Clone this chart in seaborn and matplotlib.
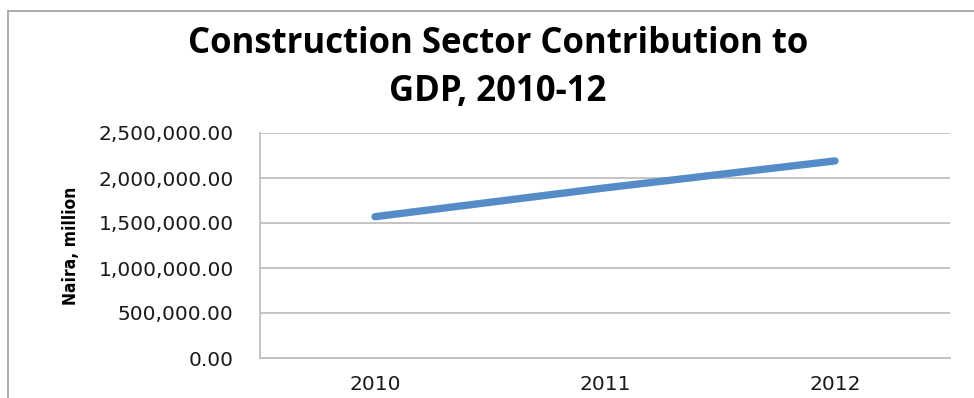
import matplotlib
matplotlib.use("Agg")
import matplotlib.pyplot as plt
import seaborn as sns
import pandas as pd
from matplotlib.lines import Line2D
from matplotlib.ticker import FuncFormatter

years = ["2010", "2011", "2012"]
values = [1570000, 1890000, 2190000]
y_ticks = [0, 500000, 1000000, 1500000, 2000000, 2500000]
title = "Construction Sector Contribution to\nGDP, 2010-12"
y_label = "Naira, million"

sns.set_theme(style="white")
plt.rcParams["font.family"] = ["DejaVu Sans"]

df = pd.DataFrame({"Year": years, "Value": values})

fig = plt.figure(figsize=(9.74, 3.98), dpi=100)
ax = fig.add_axes([260/974, 1-358/398, 690/974, 225/398])

sns.lineplot(data=df, x="Year", y="Value", ax=ax, color="#558BC6",
             linewidth=5.3, solid_capstyle="round", sort=False)

ax.set_xlim(-0.5, 2.5)
ax.set_ylim(0, 2500000)
ax.set_yticks(y_ticks)
ax.yaxis.set_major_formatter(FuncFormatter(lambda v, p: f"{v:,.2f}"))
ax.grid(axis="y", color="#BFBFBF", linewidth=1.3)
ax.grid(axis="x", visible=False)
for s in ["top", "right"]:
    ax.spines[s].set_visible(False)
for s in ["left", "bottom"]:
    ax.spines[s].set_color("#BFBFBF")
    ax.spines[s].set_linewidth(1.3)
ax.tick_params(axis="both", length=0, labelsize=14.5, colors="#1a1a1a")
ax.tick_params(axis="y", pad=19)
ax.tick_params(axis="x", pad=12)
ax.set_xlabel("")
ax.set_ylabel(y_label, fontfamily="DejaVu Sans", fontstretch="condensed",
              fontweight="bold", fontsize=12.5, color="#000000")
ax.yaxis.set_label_coords(-0.261, 0.5)

fig.text(498/974, 1-68/398, title, ha="center", va="center",
         multialignment="center", fontsize=25, fontweight="bold",
         fontfamily=["Open Sans", "DejaVu Sans"], color="#000000",
         linespacing=1.42)

# outer chart frame (left and top edges visible)
fig.add_artist(Line2D([8/974, 8/974], [0, 1-11/398], transform=fig.transFigure,
                      color="#A6A6A6", linewidth=1.3))
fig.add_artist(Line2D([8/974, 1], [1-11/398, 1-11/398], transform=fig.transFigure,
                      color="#A6A6A6", linewidth=1.3))

fig.savefig("out.png", dpi=100, facecolor="white")
